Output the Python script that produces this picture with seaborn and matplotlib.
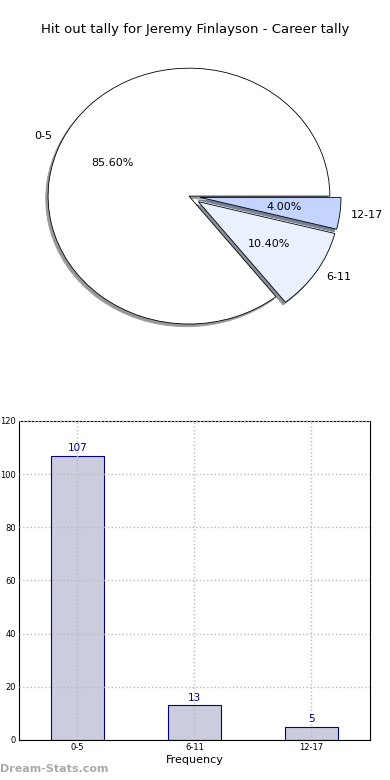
import matplotlib
matplotlib.use("Agg")
import matplotlib.pyplot as plt
import seaborn as sns
import pandas as pd

# data
categories = ['0-5', '6-11', '12-17']
counts = [107, 13, 5]
pie_colors = ['#ffffff', '#eaf0fe', '#c3d5fe']
explode = [0, 0.08, 0.08]

sns.set_style("white")
plt.rcParams['font.family'] = ['DejaVu Sans']
plt.rcParams['text.color'] = 'black'
plt.rcParams['axes.labelcolor'] = 'black'
plt.rcParams['xtick.color'] = 'black'
plt.rcParams['ytick.color'] = 'black'

fig = plt.figure(figsize=(3.9, 7.8), dpi=100)

fig.text(0.5, 1 - 30 / 780, 'Hit out tally for Jeremy Finlayson - Career tally',
         ha='center', va='center', fontsize=9.5)

# pie (elliptical, as in the original)
axp = fig.add_axes([0.033, 0.5436, 0.903, 0.410])
wedges, texts, autotexts = axp.pie(
    counts, labels=categories, colors=pie_colors, explode=explode,
    autopct='%.2f%%', startangle=0, counterclock=True,
    shadow={'ox': -0.012, 'oy': -0.015, 'shade': 0.4, 'alpha': 1.0},
    wedgeprops=dict(edgecolor='black', linewidth=0.6),
    textprops=dict(fontsize=8), labeldistance=1.08)
axp.set_aspect('auto')
axp.set_xlim(-1.25, 1.25)
axp.set_ylim(-1.25, 1.25)

# bar chart
axb = fig.add_axes([0.0487, 0.0513, 0.9, 0.409])
df = pd.DataFrame({'range': categories, 'count': counts})
sns.barplot(data=df, x='range', y='count', color='#ccccdf', edgecolor='#000080',
            linewidth=0.8, width=0.45, saturation=1, ax=axb)
axb.set_xlim(-0.5, 2.5)
axb.set_ylim(0, 120)
axb.set_yticks(range(0, 121, 20))
axb.grid(True, linestyle=':', color='#bbbbbb', linewidth=1.0)
axb.set_axisbelow(False)
for s in axb.spines.values():
    s.set_visible(True)
    s.set_color('black')
    s.set_linewidth(0.8)
axb.tick_params(labelsize=6, length=2, direction='in', pad=2)
axb.set_xlabel('Frequency', fontsize=8, labelpad=2)
axb.set_ylabel('')
for i, v in enumerate(counts):
    axb.text(i, v + 1, str(v), ha='center', va='bottom', color='#000080', fontsize=7.5)

fig.text(0.0, 0.008, 'Dream-Stats.com', color='#aaaaaa', fontsize=8,
         fontweight='bold', ha='left', va='bottom')

fig.savefig('out.png', dpi=100)
